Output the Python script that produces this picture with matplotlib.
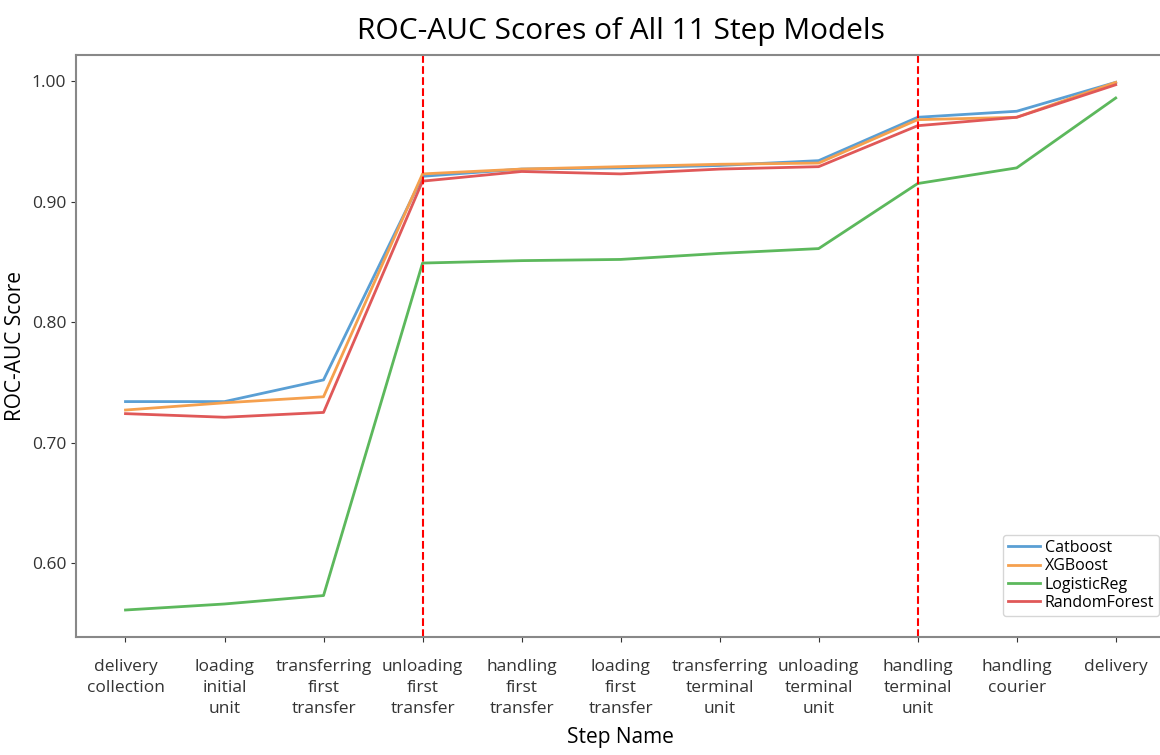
import matplotlib
matplotlib.use("Agg")
import matplotlib.pyplot as plt

plt.rcParams['font.family'] = ['Open Sans', 'DejaVu Sans']

steps = ["delivery\ncollection", "loading\ninitial\nunit", "transferring\nfirst\ntransfer",
         "unloading\nfirst\ntransfer", "handling\nfirst\ntransfer", "loading\nfirst\ntransfer",
         "transferring\nterminal\nunit", "unloading\nterminal\nunit", "handling\nterminal\nunit",
         "handling\ncourier", "delivery"]

catboost = [0.734, 0.734, 0.752, 0.921, 0.927, 0.928, 0.930, 0.934, 0.970, 0.975, 0.999]
xgboost = [0.727, 0.733, 0.738, 0.923, 0.927, 0.929, 0.931, 0.932, 0.968, 0.970, 0.999]
logreg = [0.561, 0.566, 0.573, 0.849, 0.851, 0.852, 0.857, 0.861, 0.915, 0.928, 0.986]
rforest = [0.724, 0.721, 0.725, 0.917, 0.925, 0.923, 0.927, 0.929, 0.963, 0.970, 0.997]

split_steps = [3, 8]

fig = plt.figure(figsize=(11.6, 7.55), dpi=100)
ax = fig.add_axes([0.0655, 0.1563, 0.939, 0.7707])

x = list(range(len(steps)))
ax.plot(x, catboost, color='#5a9fd4', lw=2, label='Catboost')
ax.plot(x, xgboost, color='#f5a04e', lw=2, label='XGBoost')
ax.plot(x, logreg, color='#5cb85c', lw=2, label='LogisticReg')
ax.plot(x, rforest, color='#e05858', lw=2, label='RandomForest')

for s in split_steps:
    ax.axvline(s, color='red', ls='--', lw=1.5)

ax.set_xlim(-0.5, 10.5)
ax.set_ylim(0.5386, 1.0216)
ax.set_yticks([0.6, 0.7, 0.8, 0.9, 1.0])
ax.set_yticklabels(["0.60", "0.70", "0.80", "0.90", "1.00"])
ax.set_xticks(x)
ax.set_xticklabels(steps, linespacing=1.45)
ax.tick_params(labelsize=12.5, colors='#333333')
ax.tick_params(axis='x', pad=12)

for sp in ax.spines.values():
    sp.set_color('#888888')
    sp.set_linewidth(1.5)

ax.set_xlabel("Step Name", fontsize=15, labelpad=7)
ax.set_ylabel("ROC-AUC Score", fontsize=15, labelpad=4)
fig.suptitle("ROC-AUC Scores of All 11 Step Models", fontsize=21.5, x=0.535, y=0.978)

ax.legend(loc='upper left', bbox_to_anchor=(1003 / 1160, 1 - 535 / 755),
          bbox_transform=fig.transFigure, fontsize=11.5, handlelength=2.0,
          borderpad=0.3, labelspacing=0.15, handletextpad=0.3, borderaxespad=0)

fig.savefig("out.png", dpi=100)
